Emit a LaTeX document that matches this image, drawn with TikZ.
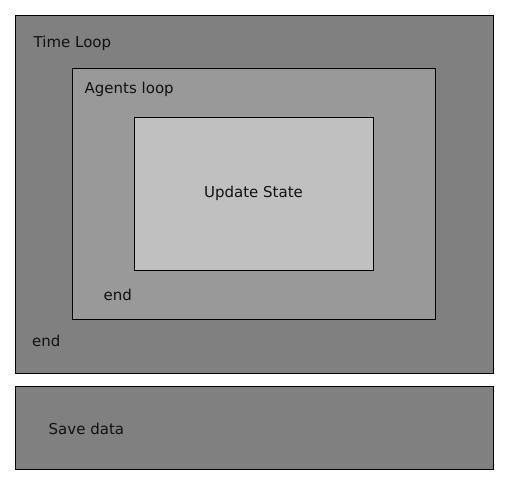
\documentclass[tikz,border=0pt]{standalone}
\usepackage{fontspec}
\setmainfont{DejaVu Sans}
\definecolor{gOuter}{HTML}{808080}
\definecolor{gMid}{HTML}{999999}
\definecolor{gInner}{HTML}{C0C0C0}
\definecolor{txt}{HTML}{111111}
\tikzset{
  boxst/.style={draw=black, line width=0.8pt},
  lbl/.style={anchor=base west, inner sep=0pt, text=txt, font=\fontsize{15}{18}\selectfont},
}
\begin{document}
\begin{tikzpicture}[x=1pt,y=-1pt]
\useasboundingbox[fill=white] (0,0) rectangle (508,484);
\filldraw[boxst, fill=gOuter] (15,15) rectangle (493,373);
\filldraw[boxst, fill=gOuter] (15,386) rectangle (493,469);
\filldraw[boxst, fill=gMid] (72,68) rectangle (435,319);
\filldraw[boxst, fill=gInner] (134,117) rectangle (373,270);
\node[lbl] (tl) at (33.5,48) {Time Loop};
\node[lbl] (al) at (84.5,94) {Agents loop};
\node[lbl, anchor=base] (us) at (253.5,197.3) {Update State};
\node[lbl] (e1) at (103.5,300) {end};
\node[lbl] (e2) at (32,346.7) {end};
\node[lbl] (sd) at (48.5,434) {Save data};
\end{tikzpicture}
\end{document}
